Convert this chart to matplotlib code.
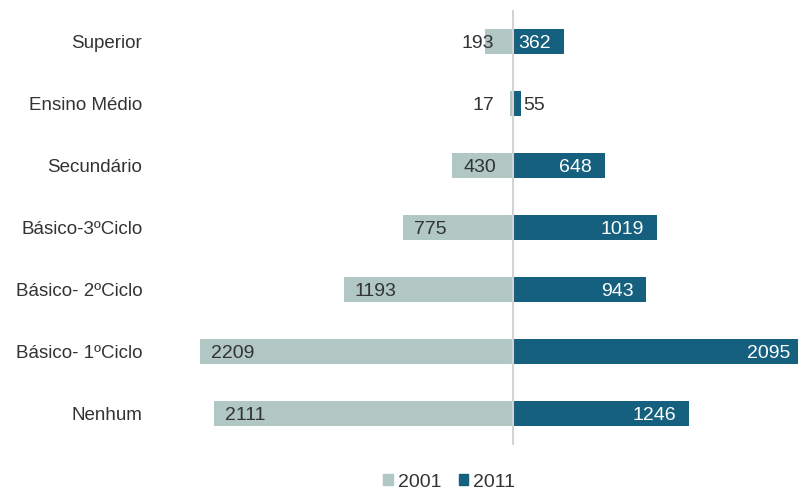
import matplotlib.pyplot as plt
from matplotlib.patches import Patch
import numpy as np

plt.rcParams['font.family'] = ['Liberation Sans', 'DejaVu Sans']

# Dados (de baixo para cima)
categorias = ['Nenhum', 'Básico- 1ºCiclo', 'Básico- 2ºCiclo', 'Básico-3ºCiclo',
              'Secundário', 'Ensino Médio', 'Superior']
v2001 = [2111, 2209, 1193, 775, 430, 17, 193]
v2011 = [1246, 2095, 943, 1019, 648, 55, 362]

cor2001 = '#b0c7c3'
cor2011 = '#15607e'
texto = '#333333'

fig = plt.figure(figsize=(7.98, 4.93), dpi=100)
ax = fig.add_axes([0.234, 0.0974, 0.817, 0.882])

y = np.arange(len(categorias))
ax.barh(y, [-v for v in v2001], height=0.40, color=cor2001)
ax.barh(y, v2011, height=0.40, color=cor2011)
ax.axvline(0, color='#d3d3d3', lw=1.5)

# Rótulos dos valores
for i, v in enumerate(v2001):
    if v > 300:
        ax.text(-v + 80, i, str(v), ha='left', va='center_baseline', fontsize=14, color=texto)
    else:
        ax.text(-130, i, str(v), ha='right', va='center_baseline', fontsize=14, color=texto)
for i, v in enumerate(v2011):
    if v > 300:
        ax.text(min(v - 92, 1960), i, str(v), ha='right', va='center_baseline',
                fontsize=14, color='white')
    else:
        ax.text(v + 20, i, str(v), ha='left', va='center_baseline', fontsize=14, color=texto)

ax.set_xlim(-2300, 2300)
ax.set_ylim(-0.5, 6.5)
ax.set_yticks(y)
ax.set_yticklabels(categorias, fontsize=13.5, color=texto)
ax.tick_params(axis='y', length=0, pad=32)
ax.set_xticks([])
for s in ax.spines.values():
    s.set_visible(False)

handles = [Patch(color=cor2001, label='2001'), Patch(color=cor2011, label='2011')]
fig.legend(handles=handles, loc='center', bbox_to_anchor=(0.563, 0.022), ncol=2,
           frameon=False, fontsize=14, handlelength=0.5, handleheight=0.5,
           handletextpad=0.25, columnspacing=0.9, labelcolor=texto,
           borderpad=0, borderaxespad=0)

plt.savefig('out.png', dpi=100)
